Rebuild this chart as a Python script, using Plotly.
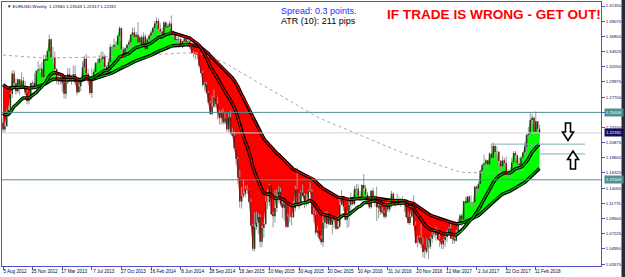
import numpy as np
import pandas as pd
import plotly.graph_objects as go

# ---------------- data (EURUSD weekly) ----------------
first_week = "2012-08-05"
first_open = 1.2387

close = [
    # 2012
    1.2285, 1.2333, 1.2509, 1.2576, 1.2816, 1.3125, 1.2978, 1.2856, 1.3036, 1.2953, 1.3018,
    1.2940, 1.2834, 1.2713, 1.2742, 1.2976, 1.2985, 1.2927, 1.3164, 1.3182, 1.3193, 1.3067,
    # 2013
    1.3341, 1.3315, 1.3458, 1.3637, 1.3365, 1.3363, 1.3188, 1.3021, 1.3002, 1.3076, 1.2985,
    1.2819, 1.2993, 1.3111, 1.3048, 1.3030, 1.3112, 1.2988, 1.2838, 1.2932, 1.3006, 1.3219,
    1.3345, 1.3123, 1.3010, 1.2832, 1.3070, 1.3146, 1.3279, 1.3284, 1.3343, 1.3336, 1.3379,
    1.3220, 1.3180, 1.3295, 1.3523, 1.3525, 1.3556, 1.3555, 1.3686, 1.3803, 1.3487, 1.3364,
    1.3500, 1.3553, 1.3590, 1.3704, 1.3739, 1.3675, 1.3705, 1.3589,
    # 2014
    1.3668, 1.3536, 1.3676, 1.3486, 1.3635, 1.3693, 1.3738, 1.3807, 1.3873, 1.3911, 1.3792,
    1.3752, 1.3704, 1.3887, 1.3813, 1.3830, 1.3873, 1.3757, 1.3702, 1.3627, 1.3635, 1.3643,
    1.3541, 1.3607, 1.3645, 1.3593, 1.3605, 1.3522, 1.3430, 1.3428, 1.3413, 1.3403, 1.3240,
    1.3130, 1.2953, 1.2960, 1.2834, 1.2683, 1.2515, 1.2630, 1.2760, 1.2670, 1.2525, 1.2454,
    1.2526, 1.2389, 1.2451, 1.2285, 1.2465, 1.2226, 1.2190, 1.2002,
    # 2015
    1.1842, 1.1566, 1.1204, 1.1290, 1.1318, 1.1390, 1.1380, 1.1196, 1.0843, 1.0497, 1.0822,
    1.0889, 1.0970, 1.0600, 1.0807, 1.0870, 1.1200, 1.1197, 1.1447, 1.1015, 1.0984, 1.1109,
    1.1264, 1.1350, 1.1165, 1.1110, 1.1159, 1.0827, 1.0982, 1.0985, 1.0970, 1.1105, 1.1387,
    1.1182, 1.1146, 1.1339, 1.1292, 1.1198, 1.1211, 1.1359, 1.1348, 1.1016, 1.1004, 1.0737,
    1.0768, 1.0648, 1.0593, 1.0885, 1.0990, 1.0868, 1.0969, 1.0856,
    # 2016
    1.0922, 1.0915, 1.0795, 1.0831, 1.1157, 1.1255, 1.1130, 1.0932, 1.1002, 1.1153, 1.1268,
    1.1166, 1.1390, 1.1398, 1.1285, 1.1223, 1.1451, 1.1402, 1.1309, 1.1222, 1.1118, 1.1367,
    1.1252, 1.1275, 1.1117, 1.1138, 1.1050, 1.1036, 1.0976, 1.1173, 1.1087, 1.1162, 1.1323,
    1.1195, 1.1153, 1.1233, 1.1154, 1.1228, 1.1241, 1.1201, 1.0972, 1.0884, 1.0981, 1.1138,
    1.0850, 1.0588, 1.0588, 1.0663, 1.0563, 1.0449, 1.0453, 1.0517,
    # 2017
    1.0530, 1.0645, 1.0700, 1.0698, 1.0783, 1.0640, 1.0616, 1.0562, 1.0623, 1.0672, 1.0737,
    1.0797, 1.0653, 1.0643, 1.0617, 1.0726, 1.0895, 1.0997, 1.0935, 1.1207, 1.1181, 1.1280,
    1.1197, 1.1198, 1.1195, 1.1426, 1.1400, 1.1470, 1.1665, 1.1749, 1.1774, 1.1822, 1.1760,
    1.1924, 1.1860, 1.2036, 1.1947, 1.1950, 1.1813, 1.1733, 1.1822, 1.1783, 1.1607, 1.1608,
    1.1665, 1.1791, 1.1933, 1.1900, 1.1774, 1.1753, 1.1860, 1.1940, 1.2030,
    # 2018
    1.2200, 1.2221, 1.2427, 1.2459, 1.2250, 1.2408, 1.2295, 1.2233,
]

high = [
    1.2443, 1.2390, 1.2587, 1.2637, 1.2820, 1.3169, 1.3172, 1.3050, 1.3046, 1.3040, 1.3139,
    1.3074, 1.3010, 1.2876, 1.2802, 1.2990, 1.3018, 1.3127, 1.3173, 1.3308, 1.3260, 1.3298,
    1.3404, 1.3403, 1.3480, 1.3711, 1.3645, 1.3519, 1.3452, 1.3202, 1.3131, 1.3114, 1.3050,
    1.3020, 1.3000, 1.3203, 1.3202, 1.3101, 1.3243, 1.3243, 1.3005, 1.3005, 1.3059, 1.3305,
    1.3389, 1.3416, 1.3195, 1.3080, 1.3207, 1.3179, 1.3297, 1.3346, 1.3399, 1.3451, 1.3453,
    1.3412, 1.3250, 1.3349, 1.3569, 1.3545, 1.3646, 1.3610, 1.3705, 1.3832, 1.3808, 1.3527,
    1.3510, 1.3562, 1.3621, 1.3715, 1.3811, 1.3811, 1.3749, 1.3893,
    1.3686, 1.3702, 1.3740, 1.3714, 1.3645, 1.3715, 1.3772, 1.3824, 1.3915, 1.3967, 1.3945,
    1.3877, 1.3810, 1.3905, 1.3906, 1.3872, 1.3906, 1.3993, 1.3765, 1.3734, 1.3676, 1.3670,
    1.3647, 1.3615, 1.3678, 1.3700, 1.3647, 1.3640, 1.3530, 1.3461, 1.3444, 1.3433, 1.3392,
    1.3223, 1.3172, 1.2993, 1.3000, 1.2860, 1.2705, 1.2791, 1.2887, 1.2766, 1.2770, 1.2575,
    1.2577, 1.2601, 1.2533, 1.2456, 1.2532, 1.2570, 1.2302, 1.2254,
    1.2005, 1.1870, 1.1678, 1.1423, 1.1534, 1.1443, 1.1450, 1.1388, 1.1245, 1.0873, 1.1043,
    1.1052, 1.1032, 1.1010, 1.0849, 1.0890, 1.1290, 1.1391, 1.1467, 1.1440, 1.1050, 1.1380,
    1.1386, 1.1436, 1.1410, 1.1278, 1.1216, 1.1200, 1.1020, 1.1129, 1.0986, 1.1213, 1.1440,
    1.1714, 1.1332, 1.1369, 1.1460, 1.1330, 1.1318, 1.1387, 1.1494, 1.1389, 1.1109, 1.1060,
    1.0832, 1.0768, 1.0694, 1.0985, 1.1043, 1.1060, 1.0990, 1.0993,
    1.0970, 1.0985, 1.0990, 1.0985, 1.1239, 1.1376, 1.1250, 1.1149, 1.1028, 1.1218, 1.1342,
    1.1277, 1.1438, 1.1465, 1.1465, 1.1361, 1.1461, 1.1616, 1.1448, 1.1349, 1.1236, 1.1376,
    1.1416, 1.1299, 1.1427, 1.1186, 1.1186, 1.1120, 1.1069, 1.1185, 1.1234, 1.1188, 1.1366,
    1.1342, 1.1239, 1.1327, 1.1276, 1.1257, 1.1282, 1.1241, 1.1180, 1.1058, 1.0990, 1.1145,
    1.1300, 1.0906, 1.0690, 1.0698, 1.0874, 1.0668, 1.0478, 1.0653,
    1.0628, 1.0685, 1.0775, 1.0774, 1.0829, 1.0800, 1.0720, 1.0628, 1.0630, 1.0715, 1.0783,
    1.0828, 1.0906, 1.0684, 1.0667, 1.0778, 1.0950, 1.1020, 1.1022, 1.1213, 1.1268, 1.1284,
    1.1296, 1.1296, 1.1197, 1.1445, 1.1446, 1.1490, 1.1680, 1.1777, 1.1910, 1.1845, 1.1825,
    1.1940, 1.2070, 1.2092, 1.2059, 1.2034, 1.1954, 1.1828, 1.1880, 1.1860, 1.1879, 1.1690,
    1.1688, 1.1861, 1.1962, 1.1961, 1.1870, 1.1863, 1.1885, 1.1946, 1.2089,
    1.2218, 1.2323, 1.2537, 1.2522, 1.2478, 1.2555, 1.2410, 1.2355,
]

low = [
    1.2241, 1.2240, 1.2330, 1.2476, 1.2531, 1.2756, 1.2925, 1.2803, 1.2830, 1.2802, 1.2880,
    1.2910, 1.2801, 1.2660, 1.2661, 1.2725, 1.2876, 1.2876, 1.2880, 1.3150, 1.3177, 1.3000,
    1.3000, 1.3249, 1.3256, 1.3405, 1.3346, 1.3302, 1.3143, 1.2967, 1.2954, 1.2953, 1.2844,
    1.2750, 1.2745, 1.2967, 1.2996, 1.2953, 1.3021, 1.2954, 1.2795, 1.2843, 1.2858, 1.2992,
    1.3158, 1.3066, 1.2989, 1.2804, 1.2755, 1.3005, 1.3101, 1.3180, 1.3225, 1.3201, 1.3311,
    1.3184, 1.3104, 1.3150, 1.3300, 1.3451, 1.3470, 1.3490, 1.3496, 1.3675, 1.3477, 1.3295,
    1.3365, 1.3400, 1.3510, 1.3515, 1.3700, 1.3625, 1.3657, 1.3575,
    1.3548, 1.3532, 1.3508, 1.3479, 1.3477, 1.3580, 1.3642, 1.3642, 1.3735, 1.3850, 1.3750,
    1.3705, 1.3670, 1.3672, 1.3790, 1.3772, 1.3772, 1.3745, 1.3647, 1.3615, 1.3586, 1.3503,
    1.3524, 1.3502, 1.3561, 1.3588, 1.3571, 1.3490, 1.3422, 1.3366, 1.3333, 1.3333, 1.3218,
    1.3118, 1.2919, 1.2860, 1.2825, 1.2667, 1.2500, 1.2501, 1.2612, 1.2614, 1.2440, 1.2356,
    1.2360, 1.2358, 1.2357, 1.2247, 1.2246, 1.2219, 1.2165, 1.2003,
    1.1754, 1.1460, 1.1114, 1.1098, 1.1262, 1.1270, 1.1315, 1.1174, 1.0842, 1.0462, 1.0460,
    1.0779, 1.0712, 1.0519, 1.0520, 1.0660, 1.0849, 1.1090, 1.1135, 1.0998, 1.0818, 1.0887,
    1.1050, 1.1188, 1.1134, 1.0954, 1.0915, 1.0810, 1.0807, 1.0890, 1.0848, 1.0961, 1.1055,
    1.1150, 1.1087, 1.1152, 1.1270, 1.1105, 1.1130, 1.1156, 1.1347, 1.1007, 1.0895, 1.0704,
    1.0674, 1.0618, 1.0557, 1.0524, 1.0796, 1.0806, 1.0848, 1.0854,
    1.0711, 1.0805, 1.0777, 1.0795, 1.0808, 1.1153, 1.1066, 1.0920, 1.0810, 1.0823, 1.1057,
    1.1143, 1.1151, 1.1329, 1.1233, 1.1217, 1.1217, 1.1389, 1.1303, 1.1195, 1.1098, 1.1097,
    1.1243, 1.1131, 1.0912, 1.0952, 1.1003, 1.1014, 1.0952, 1.0951, 1.1045, 1.1046, 1.1117,
    1.1184, 1.1123, 1.1155, 1.1145, 1.1121, 1.1155, 1.1046, 1.0965, 1.0860, 1.0852, 1.0959,
    1.0827, 1.0568, 1.0518, 1.0560, 1.0505, 1.0366, 1.0352, 1.0420,
    1.0340, 1.0493, 1.0581, 1.0660, 1.0618, 1.0623, 1.0522, 1.0494, 1.0493, 1.0524, 1.0600,
    1.0720, 1.0640, 1.0568, 1.0570, 1.0605, 1.0760, 1.0850, 1.0839, 1.0922, 1.1164, 1.1109,
    1.1193, 1.1131, 1.1119, 1.1171, 1.1312, 1.1372, 1.1474, 1.1612, 1.1728, 1.1688, 1.1662,
    1.1720, 1.1822, 1.1823, 1.1868, 1.1822, 1.1717, 1.1669, 1.1730, 1.1727, 1.1574, 1.1575,
    1.1554, 1.1640, 1.1712, 1.1810, 1.1729, 1.1718, 1.1715, 1.1848, 1.1930,
    1.1915, 1.2164, 1.2217, 1.2335, 1.2206, 1.2235, 1.2259, 1.2155,
]

# moving averages (EMA 21 / EMA 55) with their values just before the first bar
fast_period, slow_period = 21, 55
fast_seed, slow_seed = 1.255, 1.298

# long dotted average, read at a few weeks (week index, value)
long_ma_week = [0, 22, 52, 79, 96, 106, 119, 133, 150, 164, 171, 193, 215, 236, 247, 263, 279, 290]
long_ma_val = [1.340, 1.3355, 1.337, 1.340, 1.343, 1.343, 1.3295, 1.307, 1.280, 1.2575,
               1.2455, 1.220, 1.1945, 1.175, 1.1645, 1.163, 1.1675, 1.170]

# price levels
level_full = [1.25406, 1.15303]
bid_price = 1.22331
level_short = [1.2065, 1.1918]

ytick_vals = [1.02675, 1.04950, 1.07225, 1.09500, 1.11775, 1.14050, 1.16325, 1.18600, 1.20875,
              1.23150, 1.25425, 1.27700, 1.29975, 1.32250, 1.34525, 1.36800, 1.39075, 1.41350]
xtick_dates = ["2012-08-05", "2012-11-25", "2013-03-17", "2013-07-07", "2013-10-27", "2014-02-16",
               "2014-06-08", "2014-09-28", "2015-01-18", "2015-05-10", "2015-08-30", "2015-12-20",
               "2016-04-10", "2016-07-31", "2016-11-20", "2017-03-12", "2017-07-02", "2017-10-22",
               "2018-02-11"]
xtick_text = ["5 Aug 2012", "25 Nov 2012", "17 Mar 2013", "7 Jul 2013", "27 Oct 2013", "16 Feb 2014",
              "8 Jun 2014", "28 Sep 2014", "18 Jan 2015", "10 May 2015", "30 Aug 2015", "20 Dec 2015",
              "10 Apr 2016", "31 Jul 2016", "20 Nov 2016", "12 Mar 2017", "2 Jul 2017", "22 Oct 2017",
              "11 Feb 2018"]

# ---------------- derived ----------------
n = len(close)
dates = pd.date_range(first_week, periods=n, freq="7D")
c = np.array(close)
opens = np.concatenate([[first_open], c[:-1]])


def ema(vals, period, seed):
    a = 2.0 / (period + 1)
    out, e = [], seed
    for v in vals:
        e = e + a * (v - e)
        out.append(e)
    return np.array(out)


fast = ema(c, fast_period, fast_seed)
slow = ema(c, slow_period, slow_seed)

# figure geometry (pixels)
W, H = 625, 277
PX0, PX1, PY0, PY1 = 2, 601, 2, 266


def fx(px):
    return (px - PX0) / (PX1 - PX0)


def fy(py):
    return (PY1 - py) / (PY1 - PY0)


t0 = pd.Timestamp(first_week)
week_px = 1.85
x_range = [t0 - pd.Timedelta(weeks=(3 - PX0) / week_px), t0 + pd.Timedelta(weeks=(PX1 - 3) / week_px)]


def px_date(px):
    return t0 + pd.Timedelta(weeks=(px - 3) / week_px)


fig = go.Figure()

# fills between price and slow average
fig.add_trace(go.Scatter(x=dates, y=slow, mode="lines", line=dict(width=0), hoverinfo="skip", showlegend=False))
fig.add_trace(go.Scatter(x=dates, y=np.maximum(c, slow), mode="lines", line=dict(width=0),
                         fill="tonexty", fillcolor="#00ff00", hoverinfo="skip", showlegend=False))
fig.add_trace(go.Scatter(x=dates, y=slow, mode="lines", line=dict(width=0), hoverinfo="skip", showlegend=False))
fig.add_trace(go.Scatter(x=dates, y=np.minimum(c, slow), mode="lines", line=dict(width=0),
                         fill="tonexty", fillcolor="#ff0000", hoverinfo="skip", showlegend=False))

# wicks
wx, wy = [], []
for d, h, l in zip(dates, high, low):
    wx += [d, d, None]
    wy += [l, h, None]
fig.add_trace(go.Scatter(x=wx, y=wy, mode="lines", line=dict(color="#9a9a9a", width=1),
                         hoverinfo="skip", showlegend=False))
# bodies
for up, col in ((True, "#1c3f1c"), (False, "#7a1212")):
    bx, by = [], []
    for d, o, cl in zip(dates, opens, c):
        if (cl >= o) == up:
            bx += [d, d, None]
            by += [o, cl, None]
    fig.add_trace(go.Scatter(x=bx, y=by, mode="lines", line=dict(color=col, width=1.5),
                             hoverinfo="skip", showlegend=False))

# long dotted average
fig.add_trace(go.Scatter(x=[dates[i] for i in long_ma_week], y=long_ma_val, mode="lines",
                         line=dict(color="#a8a8a8", width=1, dash="dot"), hoverinfo="skip", showlegend=False))


def inner_segments(vals):
    ux, uy, dx, dy = [], [], [], []
    for i in range(1, len(vals)):
        if vals[i] >= vals[i - 1]:
            ux += [dates[i - 1], dates[i], None]
            uy += [vals[i - 1], vals[i], None]
        else:
            dx += [dates[i - 1], dates[i], None]
            dy += [vals[i - 1], vals[i], None]
    return ux, uy, dx, dy


for ma in (slow, fast):
    fig.add_trace(go.Scatter(x=dates, y=ma, mode="lines", line=dict(color="#000000", width=3.4),
                             hoverinfo="skip", showlegend=False))
    ux, uy, dx, dy = inner_segments(ma)
    fig.add_trace(go.Scatter(x=ux, y=uy, mode="lines", line=dict(color="#00c800", width=1.1),
                             hoverinfo="skip", showlegend=False))
    fig.add_trace(go.Scatter(x=dx, y=dy, mode="lines", line=dict(color="#ff0000", width=1.1),
                             hoverinfo="skip", showlegend=False))

shapes = []
for lv in level_full:
    shapes.append(dict(type="line", xref="paper", yref="y", x0=0, x1=1, y0=lv, y1=lv,
                       line=dict(color="#4f8f8f", width=1)))
shapes.append(dict(type="line", xref="paper", yref="y", x0=0, x1=1, y0=bid_price, y1=bid_price,
                   line=dict(color="#d0d0d0", width=1)))
shapes.append(dict(type="line", xref="x", yref="y", x0=dates[264], x1=px_date(585),
                   y0=level_short[0], y1=level_short[0], line=dict(color="#7fb0b0", width=1)))
shapes.append(dict(type="line", xref="x", yref="y", x0=px_date(540), x1=px_date(585),
                   y0=level_short[1], y1=level_short[1], line=dict(color="#7fb0b0", width=1)))


def path(points):
    s = "M " + " L ".join(f"{fx(x):.5f},{fy(y):.5f}" for x, y in points) + " Z"
    return s


down_arrow = [(565.5, 123), (570.5, 123), (570.5, 132), (573.5, 132), (568, 140.5), (562.5, 132), (565.5, 132)]
up_arrow = [(573, 151), (578.5, 159.5), (575.5, 159.5), (575.5, 169), (570.5, 169), (570.5, 159.5), (567.5, 159.5)]
for pts in (down_arrow, up_arrow):
    shapes.append(dict(type="path", xref="paper", yref="paper", path=path(pts),
                       line=dict(color="#000000", width=1.6), fillcolor="#ffffff"))

# frame
shapes.append(dict(type="rect", xref="paper", yref="paper", x0=fx(621.5), x1=fx(625), y0=fy(277), y1=fy(0),
                   line=dict(width=0), fillcolor="#2a2a3a"))

annotations = [
    dict(x=fx(5), y=fy(7), xref="paper", yref="paper", xanchor="left", yanchor="middle", showarrow=False,
         text="\u25bc EURUSD,Weekly  1.22940 1.23543 1.22317 1.22331",
         font=dict(family="Arial, Liberation Sans", size=4.4, color="#000060")),
    dict(x=fx(279), y=fy(11), xref="paper", yref="paper", xanchor="left", yanchor="middle", showarrow=False,
         text="Spread: 0.3 points.", font=dict(family="Arial, Liberation Sans", size=9, color="#1f1fff")),
    dict(x=fx(279), y=fy(21.5), xref="paper", yref="paper", xanchor="left", yanchor="middle", showarrow=False,
         text="ATR (10): 211 pips", font=dict(family="Arial, Liberation Sans", size=9, color="#000000")),
    dict(x=fx(385), y=fy(15), xref="paper", yref="paper", xanchor="left", yanchor="middle", showarrow=False,
         text="<b>IF TRADE IS WRONG - GET OUT!</b>",
         font=dict(family="Arial, Liberation Sans", size=13.6, color="#ff0000")),
]
for val, bg in ((level_full[0], "#4f8f8f"), (bid_price, "#10105a"), (level_full[1], "#4f8f8f")):
    annotations.append(dict(x=1, y=val, xref="paper", yref="y", xanchor="left", yanchor="middle",
                            xshift=3, showarrow=False, text=f"{val:.5f}", bgcolor=bg, borderpad=1,
                            font=dict(family="Arial, Liberation Sans", size=4.2, color="#ffffff")))

fig.update_layout(
    width=W, height=H,
    margin=dict(l=PX0, r=W - PX1, t=PY0, b=H - PY1, pad=0, autoexpand=False),
    paper_bgcolor="#ffffff", plot_bgcolor="#ffffff",
    showlegend=False,
    shapes=shapes, annotations=annotations,
    xaxis=dict(type="date", range=x_range, showgrid=False, zeroline=False, automargin=False,
               tickvals=xtick_dates, ticktext=xtick_text,
               ticklabelshift=12, ticklabelstandoff=-3, ticklabeloverflow="allow",
               ticks="outside", ticklen=3, tickcolor="#5050c8", tickwidth=1,
               showline=True, linecolor="#5050c8", linewidth=1, mirror=True,
               tickfont=dict(family="Arial, Liberation Sans", size=4.6, color="#000060")),
    yaxis=dict(side="right", range=[1.02384, 1.4195], showgrid=False, zeroline=False, automargin=False,
               tickvals=ytick_vals, ticktext=[f"{v:.5f}" for v in ytick_vals],
               ticks="outside", ticklen=3, tickcolor="#5050c8", tickwidth=1,
               showline=True, linecolor="#5050c8", linewidth=1, mirror=True,
               tickfont=dict(family="Arial, Liberation Sans", size=4.2, color="#000060")),
)

fig.write_html("out.html", config={"displayModeBar": False})
